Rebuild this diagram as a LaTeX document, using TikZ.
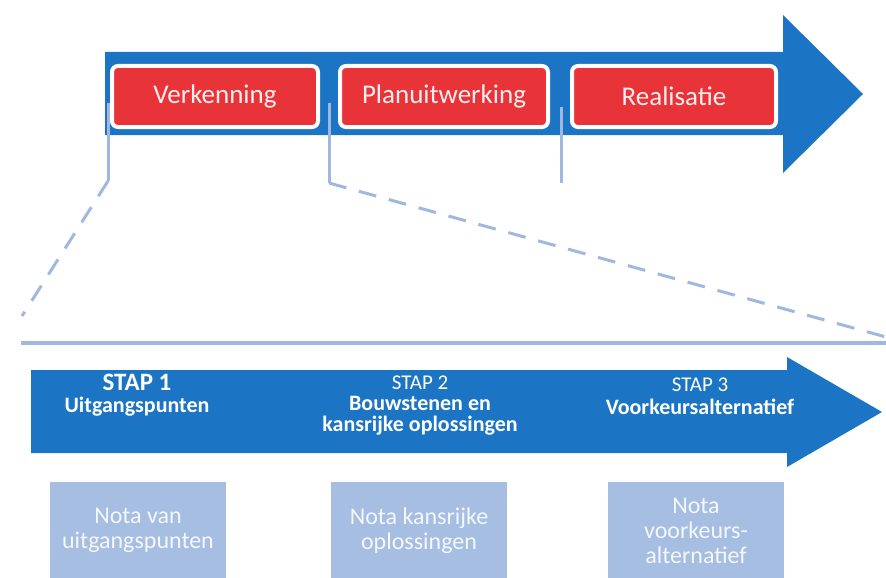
\documentclass[tikz,border=0pt]{standalone}
\usepackage{fontspec}
\setmainfont{Carlito}
\usetikzlibrary{positioning}

\definecolor{rwsblue}{RGB}{27,117,196}
\definecolor{rwsred}{RGB}{232,52,56}
\definecolor{paleblue}{RGB}{160,184,224}
\definecolor{notablue}{RGB}{166,190,226}

\tikzset{
  phase/.style={fill=rwsred, draw=white, line width=4pt, rounded corners=6pt,
    minimum height=61pt, text=white!92!rwsred, font=\fontsize{27}{30}\selectfont},
  stepnode/.style={text=white, align=center, font=\bfseries\fontsize{22}{21}\selectfont},
  nota/.style={fill=notablue, minimum width=176pt, minimum height=97pt, anchor=north,
    text=white!88!notablue, align=center, font=\fontsize{24}{25}\selectfont},
  tick/.style={paleblue, line width=3pt},
  zoomline/.style={paleblue, line width=3pt, dash pattern=on 18pt off 13pt}
}

\begin{document}
\begin{tikzpicture}[x=1pt, y=-1pt]
\useasboundingbox (0,0) rectangle (886,578);

% fases
\fill[rwsblue] (105,52) -- (783,52) -- (783,15) -- (863,94) -- (783,173)
  -- (783,135) -- (105,135) -- cycle;
\node[phase, minimum width=206pt] (verk) at (215,96.5) {Verkenning};
\node[phase, minimum width=208pt] (plan) at (444,96.5) {Planuitwerking};
\node[phase, minimum width=204pt] (real) at (674,96.5) {Realisatie};

\coordinate (t1) at (108,103);
\coordinate (b1) at (108,181);
\coordinate (t2) at (329,103);
\coordinate (b2) at (329,183);
\coordinate (t3) at (561,107);
\coordinate (b3) at (561,183);
\foreach \i in {1,2,3}
\draw[tick] (t\i) -- (b\i);

% uitvergroting
\coordinate (zl) at (22,316);
\coordinate (zr) at (886,337);
\draw[zoomline] (b1) -- (zl);
\draw[zoomline] (b2) -- (zr);
\coordinate (hl) at (21,343);
\coordinate (hr) at (886,343);
\draw[paleblue, line width=3.5pt] (hl) -- (hr);

% stappen
\fill[rwsblue] (31,370) -- (787,370) -- (787,357) -- (882,412) -- (787,467)
  -- (787,453) -- (31,453) -- cycle;
\node[stepnode] (s1) at (137,395) {{\fontsize{25}{26}\selectfont STAP 1}\\[1pt] Uitgangspunten};
\node[stepnode] (s2) at (420,406) {{\mdseries\fontsize{21}{21}\selectfont STAP 2}\\ Bouwstenen en\\ kansrijke oplossingen};
\node[stepnode] (s3) at (700,396) {{\mdseries\fontsize{21}{21}\selectfont STAP 3}\\[2pt] Voorkeursalternatief};

% nota's
\node[nota] (n1) at (138,482) {Nota van\\ uitgangspunten};
\node[nota] (n2) at (419,482) {Nota kansrijke\\ oplossingen};
\node[nota] (n3) at (696,482) {Nota\\ voorkeurs-\\ alternatief};
\end{tikzpicture}
\end{document}
